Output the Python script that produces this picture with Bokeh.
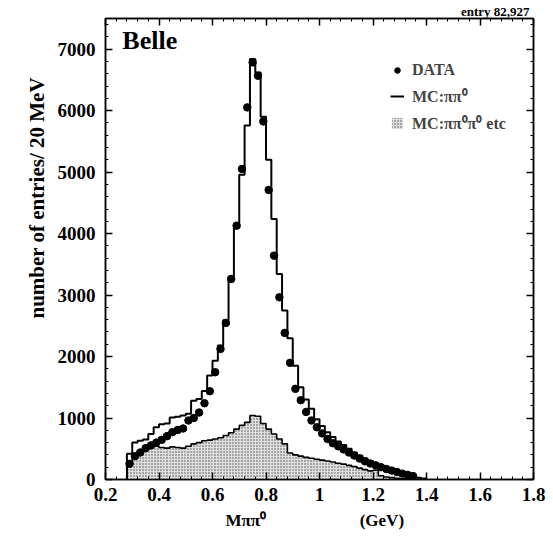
import numpy as np
from bokeh.plotting import figure
from bokeh.models import (Range1d, FixedTicker, LinearAxis, Label, Legend, LegendItem, Title)
from bokeh.embed import file_html
from bokeh.resources import INLINE

# ---- binning (20 MeV bins) ----
bin_first_edge = 0.28
bin_width = 0.02

# ---- DATA points (entries / 20 MeV), bins centred 0.29 ... 1.37 ----
data_counts = [255, 380, 440, 510, 555, 600, 645, 705, 770, 805,
               830, 960, 1000, 1090, 1240, 1436, 1745, 2125, 2548, 3263,
               4130, 5052, 6054, 6785, 6569, 5826, 4711, 3642, 2964, 2385,
               1898, 1475, 1290, 1100, 960, 850, 750, 660, 590, 540,
               490, 440, 390, 340, 295, 260, 230, 200, 170, 145,
               120, 95, 75, 55]

# ---- MC: pi pi0 (total outline), bins centred 0.29 ... 1.39 ----
mc_total = [420, 600, 630, 650, 740, 850, 900, 910, 1010, 1020,
            1040, 1070, 1280, 1310, 1440, 1690, 1930, 2180, 2590, 3300,
            4100, 4960, 5760, 6840, 6620, 5900, 5200, 4240, 3345, 2750,
            2300, 1850, 1500, 1300, 1150, 980, 870, 770, 690, 620,
            560, 500, 440, 390, 340, 300, 260, 230, 190, 160,
            130, 100, 70, 50, 30, 15]

# ---- MC: pi pi0 pi0 etc (shaded), bins centred 0.29 ... 1.39 ----
mc_bkg = [280, 400, 470, 520, 550, 540, 520, 510, 530, 520,
          510, 540, 580, 600, 630, 640, 660, 680, 715, 760,
          820, 880, 930, 1040, 1030, 910, 820, 740, 660, 580,
          430, 400, 380, 360, 345, 330, 315, 300, 285, 265,
          250, 230, 210, 185, 160, 140, 150, 60, 40, 30,
          20, 10, 5, 0, 0, 0]

x_ticks = [0.2, 0.4, 0.6, 0.8, 1.0, 1.2, 1.4, 1.6, 1.8]
x_tick_labels = ["0.2", "0.4", "0.6", "0.8", "1", "1.2", "1.4", "1.6", "1.8"]
y_ticks = [0, 1000, 2000, 3000, 4000, 5000, 6000, 7000]
y_tick_labels = ["0", "1000", "2000", "3000", "4000", "5000", "6000", "7000"]

FONT = "Liberation Serif"
NB = "\u00a0"

n = len(mc_total)
edges = bin_first_edge + bin_width * np.arange(n + 1)
centers = edges[:-1] + bin_width / 2

p = figure(width=553, height=538, x_range=Range1d(0.2, 1.8), y_range=Range1d(0, 7500),
           output_backend="svg", toolbar_location=None,
           min_border_left=105, min_border_right=20, min_border_top=18, min_border_bottom=59)
p.xgrid.visible = False
p.ygrid.visible = False
p.outline_line_color = "black"
p.outline_line_width = 1.5
p.background_fill_color = "white"
p.border_fill_color = "white"

x_minor = [round(0.2 + 0.04 * i, 4) for i in range(41)]
y_minor = [200 * i for i in range(38)]

def style_axis(ax, xaxis, labels=True):
    ticks = x_ticks if xaxis else y_ticks
    texts = x_tick_labels if xaxis else y_tick_labels
    ax.ticker = FixedTicker(ticks=ticks, minor_ticks=x_minor if xaxis else y_minor)
    ax.major_label_overrides = dict(zip(ticks, texts if labels else [""] * len(ticks)))
    ax.axis_line_width = 1.5
    ax.major_tick_in = 7
    ax.major_tick_out = 0
    ax.minor_tick_in = 3
    ax.minor_tick_out = 0
    ax.major_tick_line_width = 1.5
    ax.minor_tick_line_width = 1
    ax.major_label_text_font = FONT
    ax.major_label_text_font_style = "bold"
    ax.major_label_text_font_size = "19px" if labels else "1px"
    ax.major_label_text_color = "black"
    ax.major_label_standoff = (8 if xaxis else 10) if labels else 0
    ax.axis_label = None

style_axis(p.xaxis[0], True)
style_axis(p.yaxis[0], False)
top_ax = LinearAxis()
style_axis(top_ax, True, labels=False)
p.add_layout(top_ax, "above")
right_ax = LinearAxis()
style_axis(right_ax, False, labels=False)
p.add_layout(right_ax, "right")

# shaded background MC
r_bkg = p.quad(left=edges[:-1], right=edges[1:], bottom=0, top=mc_bkg,
               fill_color="#dedede", line_color=None,
               hatch_pattern="dot", hatch_color="#4a4a4a", hatch_scale=3, hatch_weight=1)
xs_b = np.concatenate([[edges[0]], edges])
ys_b = np.concatenate([[0], mc_bkg, [0]])
p.step(xs_b, ys_b, mode="after", line_color="black", line_width=1.6)

# total MC outline
xs_t = np.concatenate([[edges[0]], edges])
ys_t = np.concatenate([[0], mc_total, [0]])
r_mc = p.step(xs_t, ys_t, mode="after", line_color="black", line_width=2)

# data points
r_data = p.scatter(centers[:len(data_counts)], data_counts, size=7.5,
                   fill_color="black", line_color="black")

legend = Legend(items=[LegendItem(label="DATA", renderers=[r_data]),
                       LegendItem(label="MC:ππ⁰", renderers=[r_mc]),
                       LegendItem(label="MC:ππ⁰π⁰ etc", renderers=[r_bkg])],
                location=(285, 345), border_line_color=None, background_fill_alpha=0,
                label_text_font=FONT, label_text_font_style="bold",
                label_text_font_size="16px", glyph_width=14, glyph_height=14,
                label_height=20, label_standoff=8, spacing=5, padding=0, margin=0)
p.add_layout(legend)

# Belle (inside the frame)
p.add_layout(Label(x=0.263, y=6900, text="Belle", text_font=FONT, text_font_style="bold",
                   text_font_size="26px", text_color="black"))

# entry count above the frame
p.add_layout(Title(text="entry 82,927", align="right", offset=4, standoff=0,
                   text_font=FONT, text_font_style="bold", text_font_size="13px",
                   text_color="black"), "above")

# y-axis title
p.add_layout(Title(text="number of entries/ 20 MeV", align="left", offset=161, standoff=11,
                   text_font=FONT, text_font_style="bold", text_font_size="21px",
                   text_color="black"), "left")

# x-axis title
p.add_layout(Title(text="Mππ⁰" + NB * 22 + "(GeV)", align="left", offset=120, standoff=11,
                   text_font=FONT, text_font_style="bold", text_font_size="17px",
                   text_color="black"), "below")

open("out.html", "w").write(file_html(p, INLINE))
